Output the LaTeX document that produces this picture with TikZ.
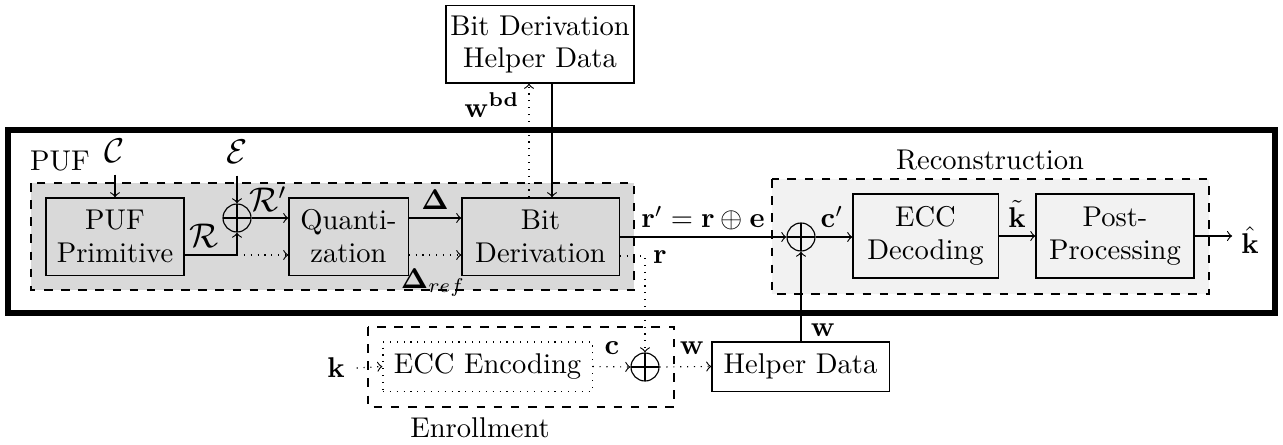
\documentclass[tikz,border=0pt]{standalone}
\usepackage{amsmath,bm}
\begin{document}
\begin{tikzpicture}[x=0.35pt,y=-0.35pt,font=\fontsize{10pt}{11.5pt}\selectfont,
  block/.style={draw,align=center,inner sep=1.5pt},
  xor/.style={draw,circle,minimum size=9.8pt,inner sep=0pt,
    path picture={\draw (path picture bounding box.north) -- (path picture bounding box.south)
      (path picture bounding box.west) -- (path picture bounding box.east);}},
  lbl/.style={inner sep=1pt},
  group/.style={dashed}]
\useasboundingbox (0,0) rectangle (1283,445);

\draw [line width=1.8pt] (8,130) rectangle (1275,313);
\draw [group,fill=gray!30] (31,183) rectangle (634,290);
\draw [group,fill=gray!10] (772,179) rectangle (1209,294);
\draw [group] (368,327) rectangle (674,407);

\node (puflbl) at (60,161) {PUF};
\node (reclbl) at (990,160) {Reconstruction};
\node (enrlbl) at (480,428) {Enrollment};

\node [block,minimum width=48.3pt,minimum height=27pt] (prim) at (115,236.5) {PUF\\Primitive};
\node [block,minimum width=41.7pt,minimum height=27pt] (quant) at (348.5,236.5) {Quanti-\\zation};
\node [block,minimum width=55pt,minimum height=27pt] (bitder) at (540.5,236.5) {Bit\\Derivation};
\node [block,fill=white,minimum width=64.4pt,minimum height=27pt] (bdhd) at (540,44.5) {Bit Derivation\\Helper Data};
\node [block,minimum width=50.8pt,minimum height=29.4pt] (dec) at (925.5,236) {ECC\\Decoding};
\node [block,minimum width=55.3pt,minimum height=29.4pt] (post) at (1115,236) {Post-\\Processing};
\node [block,minimum width=62pt,minimum height=17.2pt] (helper) at (800.5,366.5) {Helper Data};
\node [block,dotted,minimum width=73.2pt,minimum height=17.2pt] (enc) at (487.5,366.5) {ECC Encoding};

\node [xor] (xor1) at (237,218) {};
\node [xor] (xor2) at (801,237) {};
\node [xor] (xor3) at (645,367) {};

\node [lbl] (cin) at (115,151) {\large$\mathcal{C}$};
\node [lbl] (ein) at (237,152) {\large$\mathcal{E}$};
\node [lbl] (rlbl) at (204,236) {\large$\mathcal{R}$};
\node [lbl] (rplbl) at (268,199) {\large$\mathcal{R}'$};
\node [lbl] (dlbl) at (435,200) {$\bm{\Delta}$};
\node [lbl] (dreflbl) at (433,283) {$\bm{\Delta}_{ref}$};
\node [lbl] (wbdlbl) at (492,105) {$\mathbf{w}^{\mathbf{bd}}$};
\node [lbl] (rpelbl) at (703,218) {$\mathbf{r}'=\mathbf{r}\oplus\mathbf{e}$};
\node [lbl] (rrlbl) at (660,257) {$\mathbf{r}$};
\node [lbl] (cplbl) at (832,217) {$\mathbf{c}'$};
\node [lbl] (ktlbl) at (1017,214) {$\tilde{\mathbf{k}}$};
\node [lbl] (khat) at (1250,240) {$\hat{\mathbf{k}}$};
\node [lbl] (wlbl) at (823,330) {$\mathbf{w}$};
\node [lbl] (kin) at (336,368) {$\mathbf{k}$};
\node [lbl] (clbl) at (612,348) {$\mathbf{c}$};
\node [lbl] (wwlbl) at (692,348) {$\mathbf{w}$};

\coordinate (rsplit) at (237,255);
\coordinate (bdin) at (552,0);
\coordinate (bdout) at (529,0);
\coordinate (rdot) at (645,256);

\draw [->] ([yshift=-3pt]cin.south) -- (prim.north);
\draw [->] ([yshift=-3pt]ein.south) -- (xor1.north);
\draw [->] (prim.east |- rsplit) -- (rsplit) -- (xor1.south);
\draw [dotted,->] (rsplit) -- (quant.west |- rsplit);
\draw [->] (xor1.east) -- (quant.west |- xor1);
\draw [->] (quant.east |- xor1) -- (bitder.west |- xor1);
\draw [dotted,->] (quant.east |- rsplit) -- (bitder.west |- rsplit);
\draw [->] (bdhd.south -| bdin) -- (bitder.north -| bdin);
\draw [dotted,->] (bitder.north -| bdout) -- (bdhd.south -| bdout);
\draw [->] (bitder.east |- xor2) -- (xor2.west);
\draw [dotted,->] (bitder.east |- rdot) -| (xor3.north);
\draw [->] (xor2.east) -- (dec.west |- xor2);
\draw [->] (dec.east) -- (post.west);
\draw [->] (post.east) -- ([xshift=-2pt]khat.west |- post);
\draw [->] (helper.north -| xor2) -- (xor2.south);
\draw [dotted,->] ([xshift=3pt]kin.east) -- (enc.west);
\draw [dotted,->] (enc.east) -- (xor3.west);
\draw [dotted,->] (xor3.east) -- (helper.west);
\end{tikzpicture}
\end{document}
